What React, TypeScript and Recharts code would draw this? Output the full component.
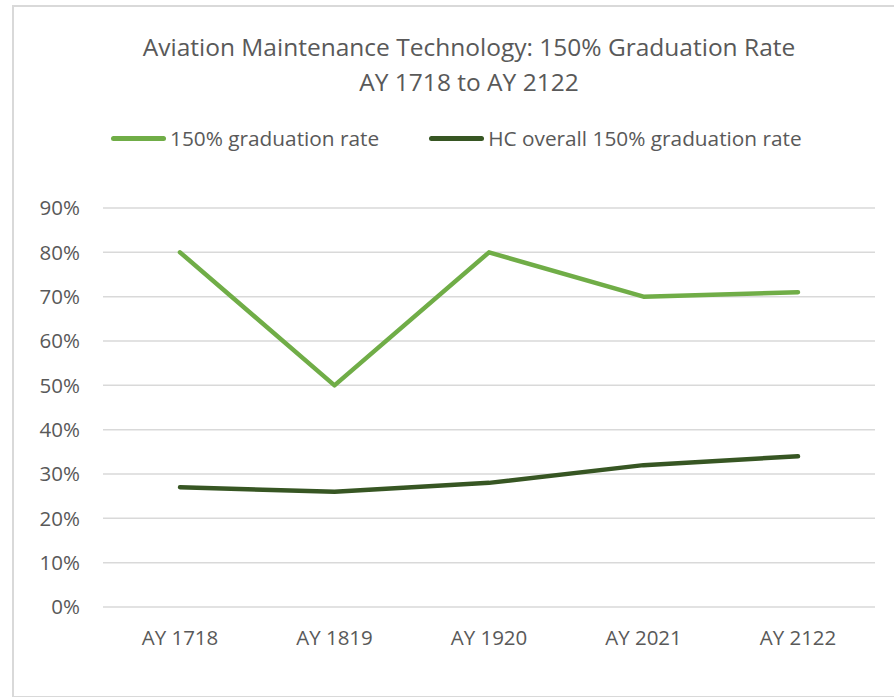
import { CartesianGrid, Legend, Line, LineChart, XAxis, YAxis } from 'recharts';

const years = ['AY 1718', 'AY 1819', 'AY 1920', 'AY 2021', 'AY 2122'];
const programRate = [0.8, 0.5, 0.8, 0.7, 0.71];
const hcOverallRate = [0.27, 0.26, 0.28, 0.32, 0.34];
const yTicks = [0, 0.1, 0.2, 0.3, 0.4, 0.5, 0.6, 0.7, 0.8, 0.9];

const seriesInfo = [
  { key: 'program', name: '150% graduation rate', color: '#70AD47' },
  { key: 'overall', name: 'HC overall 150% graduation rate', color: '#375623' },
];

const data = years.map((year, i) => ({
  year,
  program: programRate[i],
  overall: hcOverallRate[i],
}));

const FONT = '"Open Sans", sans-serif';
const TEXT = '#595959';

const formatPct = (v: number) => `${Math.round(v * 100)}%`;

const renderLegend = () => (
  <div
    style={{
      display: 'flex',
      alignItems: 'center',
      height: 24,
      fontFamily: FONT,
      fontSize: 20.8,
      color: TEXT,
      whiteSpace: 'nowrap',
    }}
  >
    {seriesInfo.map((s, i) => (
      <div key={s.key} style={{ display: 'flex', alignItems: 'center', marginRight: i === 0 ? 50 : 0 }}>
        <span
          style={{
            display: 'inline-block',
            width: 55,
            height: 5,
            borderRadius: 3,
            background: s.color,
            marginRight: 4,
          }}
        />
        <span>{s.name}</span>
      </div>
    ))}
  </div>
);

export default function App() {
  return (
    <div
      style={{
        position: 'absolute',
        left: 12,
        top: 5,
        width: 900,
        height: 689,
        border: '2px solid #d9d9d9',
        background: '#fff',
      }}
    >
      <div
        style={{
          position: 'absolute',
          left: 0,
          top: 22,
          width: 910,
          textAlign: 'center',
          fontFamily: FONT,
          fontSize: 24.5,
          lineHeight: '35px',
          color: TEXT,
        }}
      >
        <div>Aviation Maintenance Technology: 150% Graduation Rate</div>
        <div>AY 1718 to AY 2122</div>
      </div>
      <LineChart
        width={880}
        height={689}
        data={data}
        margin={{ top: 177, right: 19, bottom: 59, left: 0 }}
      >
        <CartesianGrid vertical={false} stroke="#d9d9d9" strokeWidth={1.5} />
        <XAxis
          dataKey="year"
          axisLine={false}
          tickLine={false}
          tickMargin={17}
          height={30}
          padding={{ left: 77, right: 77 }}
          tick={{ fill: TEXT, fontSize: 20.5, fontFamily: FONT }}
        />
        <YAxis
          domain={[0, 0.9]}
          ticks={yTicks}
          tickFormatter={formatPct}
          axisLine={false}
          tickLine={false}
          width={89}
          tickMargin={17}
          tick={{ fill: TEXT, fontSize: 20.5, fontFamily: FONT }}
        />
        <Legend
          verticalAlign="top"
          content={renderLegend}
          wrapperStyle={{ top: 119, left: 97, width: 800 }}
        />
        {seriesInfo.map((s) => (
          <Line
            key={s.key}
            type="linear"
            dataKey={s.key}
            name={s.name}
            stroke={s.color}
            strokeWidth={4.5}
            strokeLinecap="round"
            strokeLinejoin="round"
            dot={false}
            activeDot={false}
            isAnimationActive={false}
          />
        ))}
      </LineChart>
    </div>
  );
}
